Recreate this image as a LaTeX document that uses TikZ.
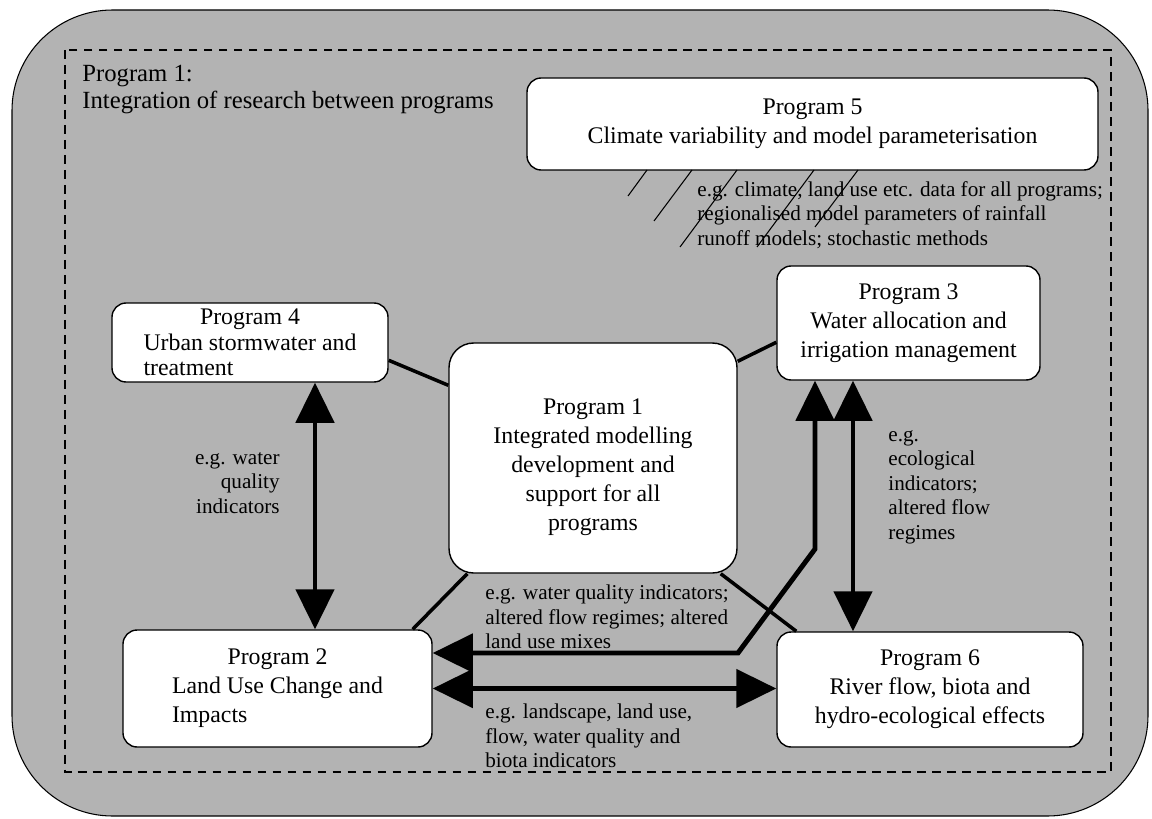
\documentclass[tikz,border=0pt]{standalone}
\usepackage{fontspec}
\setmainfont{Liberation Serif}
\usetikzlibrary{arrows.meta,calc}
\definecolor{bg}{RGB}{179,179,179}
\begin{document}
\begin{tikzpicture}[x=0.5669pt,y=-0.5669pt,
  prog/.style={draw=black, line width=0.8pt, fill=white, align=center, inner sep=0pt,
    font=\fontsize{13.5}{16.4}\selectfont, rounded corners=8pt},
  note/.style={inner sep=0pt, font=\fontsize{12}{13.9}\selectfont},
  link/.style={line width=2pt},
  dbl/.style={line width=2.8pt, {Triangle[width=21.5pt,length=22.7pt]}-{Triangle[width=21.5pt,length=22.7pt]}},
  hatch/.style={line width=0.6pt}
]
\useasboundingbox (0,0) rectangle (1152,819);
\path[fill=bg, draw=black, line width=0.6pt, rounded corners=57pt] (12,10) rectangle (1148,816);
\draw[line width=1pt, dash pattern=on 5pt off 3.5pt] (65,50) rectangle (1111,772);

\node[note, anchor=west, align=left, font=\fontsize{14}{15.3}\selectfont] (lbl) at (82,90)
  {Program 1:\\Integration of research between programs};

\node[prog, minimum width=571*0.5669pt, minimum height=92*0.5669pt] (p5) at (812.5,124)
  {Program 5\\Climate variability and model parameterisation};
\node[prog, minimum width=276*0.5669pt, minimum height=79*0.5669pt,
  font=\fontsize{13.5}{14.6}\selectfont] (p4) at (250,342.5)
  {Program 4\\Urban stormwater and\\\rlap{treatment}\phantom{Urban stormwater and}};
\node[prog, minimum width=263*0.5669pt, minimum height=114*0.5669pt] (p3) at (908.5,323)
  {Program 3\\Water allocation and\\irrigation management};
\node[prog, minimum width=288*0.5669pt, minimum height=230*0.5669pt, rounded corners=14pt] (p1) at (593,458)
  {\rule{0pt}{19pt}Program 1\\Integrated modelling\\development and\\support for all\\programs};
\node[prog, minimum width=309*0.5669pt, minimum height=117*0.5669pt] (p2) at (277.5,688.5)
  {Program 2\\Land Use Change and\\\rlap{Impacts}\phantom{Land Use Change and}};
\node[prog, minimum width=306*0.5669pt, minimum height=115*0.5669pt] (p6) at (930,689.5)
  {Program 6\\River flow, biota and\\hydro-ecological effects};

% callout hatch under program 5
\draw[hatch] (647,170) -- (628,196);
\draw[hatch] (692,170) -- (654,221);
\draw[hatch] (737,170) -- (680,247);
\draw[hatch] (814,170) -- (757,247);
\draw[hatch] (858,170) -- (815,227);

% notes
\node[note, anchor=west, align=left] (n5) at (697,215)
  {e.g. climate, land use etc. data for all programs;\\regionalised model parameters of rainfall\\runoff models; stochastic methods};
\node[note, anchor=east, align=right] (nL) at (280,483) {e.g. water\\quality\\indicators};
\node[note, anchor=west, align=left] (nR) at (888,487) {e.g.\\ecological\\indicators;\\altered flow\\regimes};
\node[note, anchor=west, align=left] (nC) at (485,617)
  {e.g. water quality indicators;\\altered flow regimes; altered\\land use mixes};
\node[note, anchor=west, align=left] (nB) at (485,736)
  {e.g. landscape, land use,\\flow, water quality and\\biota indicators};

% links to program 1
\draw[link] ($(p4.north east)+(0,58)$) -- ($(p1.north west)+(0,43)$);
\draw[link] ($(p3.north west)+(0,77)$) -- ($(p1.north east)+(0,19)$);
\draw[link] ($(p1.south west)+(19,0)$) -- ($(p2.north east)+(-20,0)$);
\draw[link] ($(p1.south east)+(-17,0)$) -- ($(p6.north west)+(20,0)$);

% arrows
\coordinate (a1) at (315,0);
\coordinate (a2) at (815,0);
\coordinate (a3) at (853,0);
\coordinate (k1) at (738,653);
\coordinate (k2) at (815,549);
\draw[dbl] (p4.south -| a1) -- (p2.north -| a1);
\draw[dbl] (p3.south -| a3) -- (p6.north -| a3);
\draw[dbl] (p2.east) -- (p2.east -| p6.west);
\draw[dbl] (p2.east |- k1) -- (k1) -- (k2) -- (p3.south -| a2);
\end{tikzpicture}
\end{document}
